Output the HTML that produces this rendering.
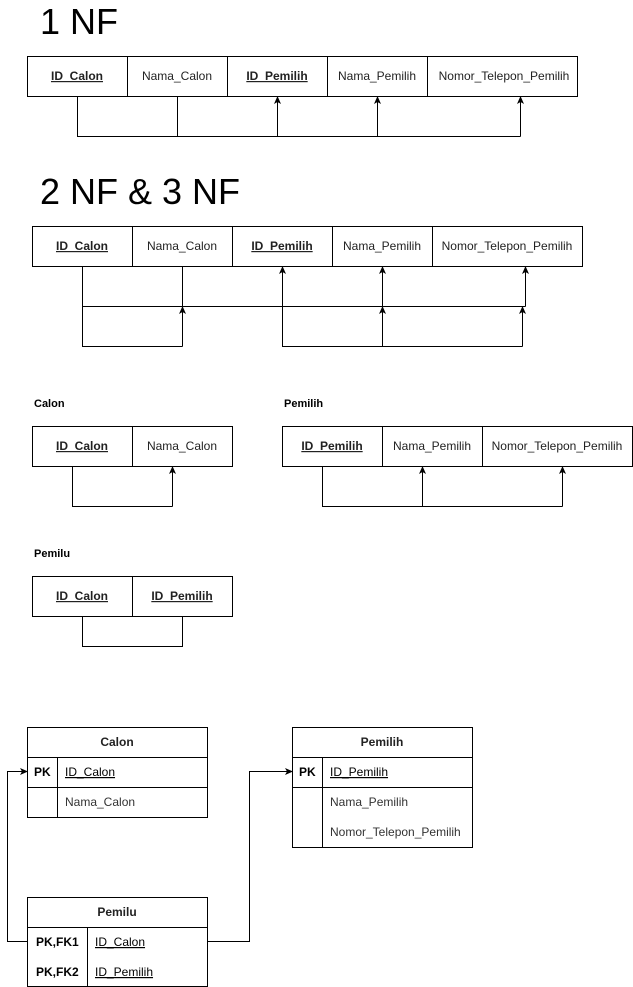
<!DOCTYPE html>
<html><head><meta charset="utf-8"><style>html,body{margin:0;padding:0;background:#fff}svg{display:block}</style></head>
<body>
<svg width="633" height="987" viewBox="0 0 633 987" xmlns="http://www.w3.org/2000/svg" font-family="Liberation Sans, Arial, sans-serif">
<defs>
<marker id="a" markerWidth="8" markerHeight="8" refX="7" refY="4" orient="auto" markerUnits="userSpaceOnUse"><path d="M0,0.5 L8,4 L0,7.5 L2,4 Z" fill="#000"/></marker>
</defs>
<g fill="none" stroke="#000" stroke-width="1">
<!-- 1NF -->
<rect x="27.5" y="56.5" width="550" height="40"/>
<path d="M127.5 56.5V96.5M227.5 56.5V96.5M327.5 56.5V96.5M427.5 56.5V96.5"/>
<path d="M77.5 96.5V136.5H520.5M177.5 96.5V136.5"/>
<path d="M277.5 136.5V97" marker-end="url(#a)"/>
<path d="M377.5 136.5V97" marker-end="url(#a)"/>
<path d="M520.5 136.5V97" marker-end="url(#a)"/>
<!-- 2NF -->
<rect x="32.5" y="226.5" width="550" height="40"/>
<path d="M132.5 226.5V266.5M232.5 226.5V266.5M332.5 226.5V266.5M432.5 226.5V266.5"/>
<path d="M82.5 266.5V346.5H182.5M82.5 306.5H525.5M182.5 266.5V306.5"/>
<path d="M182.5 346.5V307" marker-end="url(#a)"/>
<path d="M282.5 306.5V267" marker-end="url(#a)"/>
<path d="M382.5 306.5V267" marker-end="url(#a)"/>
<path d="M525.5 306.5V267" marker-end="url(#a)"/>
<path d="M282.5 306.5V346.5H522.5"/>
<path d="M382.5 346.5V307" marker-end="url(#a)"/>
<path d="M522.5 346.5V307" marker-end="url(#a)"/>
<!-- Calon -->
<rect x="32.5" y="426.5" width="200" height="40"/>
<path d="M132.5 426.5V466.5M72.5 466.5V506.5H172.5"/>
<path d="M172.5 506.5V467" marker-end="url(#a)"/>
<!-- Pemilih -->
<rect x="282.5" y="426.5" width="350" height="40"/>
<path d="M382.5 426.5V466.5M482.5 426.5V466.5M322.5 466.5V506.5H562.5"/>
<path d="M422.5 506.5V467" marker-end="url(#a)"/>
<path d="M562.5 506.5V467" marker-end="url(#a)"/>
<!-- Pemilu -->
<rect x="32.5" y="576.5" width="200" height="40"/>
<path d="M132.5 576.5V616.5M82.5 616.5V646.5H182.5V616.5"/>
<!-- ERD Calon -->
<rect x="27.5" y="727.5" width="180" height="90"/>
<path d="M27.5 757.5H207.5M27.5 787.5H207.5M57.5 757.5V817.5"/>
<!-- ERD Pemilih -->
<rect x="292.5" y="727.5" width="180" height="120"/>
<path d="M292.5 757.5H472.5M292.5 787.5H472.5M322.5 757.5V847.5"/>
<!-- ERD Pemilu -->
<rect x="27.5" y="897.5" width="180" height="89"/>
<path d="M27.5 927.5H207.5M87.5 927.5V986.5"/>
<path d="M27.5 941.5H7.5V771.5H27" marker-end="url(#a)"/>
<path d="M207.5 941.5H249.5V771.5H292" marker-end="url(#a)"/>
</g>
<g font-size="12" fill="#000">
<text x="40" y="34" font-size="36">1 NF</text>
<text x="40" y="204" font-size="36">2 NF &amp; 3 NF</text>
<g text-anchor="middle" fill="#222">
<text x="77" y="80" font-weight="bold" text-decoration="underline">ID_Calon</text>
<text x="177" y="80">Nama_Calon</text>
<text x="277" y="80" font-weight="bold" text-decoration="underline">ID_Pemilih</text>
<text x="377" y="80">Nama_Pemilih</text>
<text x="504" y="80">Nomor_Telepon_Pemilih</text>
<text x="82" y="250" font-weight="bold" text-decoration="underline">ID_Calon</text>
<text x="182" y="250">Nama_Calon</text>
<text x="282" y="250" font-weight="bold" text-decoration="underline">ID_Pemilih</text>
<text x="382" y="250">Nama_Pemilih</text>
<text x="507" y="250">Nomor_Telepon_Pemilih</text>
<text x="82" y="450" font-weight="bold" text-decoration="underline">ID_Calon</text>
<text x="182" y="450">Nama_Calon</text>
<text x="332" y="450" font-weight="bold" text-decoration="underline">ID_Pemilih</text>
<text x="432" y="450">Nama_Pemilih</text>
<text x="557" y="450">Nomor_Telepon_Pemilih</text>
<text x="82" y="600" font-weight="bold" text-decoration="underline">ID_Calon</text>
<text x="182" y="600" font-weight="bold" text-decoration="underline">ID_Pemilih</text>
<text x="117" y="746" font-weight="bold">Calon</text>
<text x="382" y="746" font-weight="bold">Pemilih</text>
<text x="117" y="916" font-weight="bold">Pemilu</text>
</g>
<text x="34" y="407" font-size="11" font-weight="bold">Calon</text>
<text x="284" y="407" font-size="11" font-weight="bold">Pemilih</text>
<text x="34" y="557" font-size="11" font-weight="bold">Pemilu</text>
<text x="34" y="776" font-weight="bold">PK</text>
<text x="65" y="776" text-decoration="underline">ID_Calon</text>
<text x="65" y="806" fill="#333">Nama_Calon</text>
<text x="299" y="776" font-weight="bold">PK</text>
<text x="330" y="776" text-decoration="underline">ID_Pemilih</text>
<text x="330" y="806" fill="#333">Nama_Pemilih</text>
<text x="330" y="836" fill="#333">Nomor_Telepon_Pemilih</text>
<text x="36" y="946" font-weight="bold">PK,FK1</text>
<text x="95" y="946" text-decoration="underline">ID_Calon</text>
<text x="36" y="976" font-weight="bold">PK,FK2</text>
<text x="95" y="976" text-decoration="underline">ID_Pemilih</text>
</g>
</svg>
</body></html>
